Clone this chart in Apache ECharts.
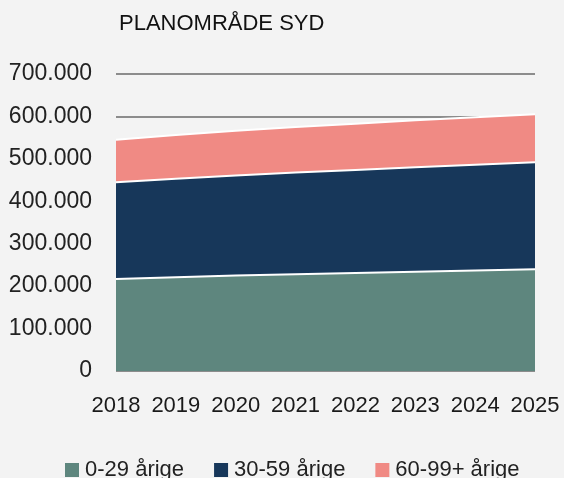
<!DOCTYPE html>
<html>
<head>
<meta charset="utf-8">
<script src="https://cdn.jsdelivr.net/npm/echarts@6/dist/echarts.min.js"></script>
<style>
html,body{margin:0;padding:0;background:#f3f3f3;}
#c{width:564px;height:478px;}
</style>
</head>
<body>
<div id="c"></div>
<script>
const years = ['2018','2019','2020','2021','2022','2023','2024','2025'];
const seriesNames = ['0-29 årige','30-59 årige','60-99+ årige'];
const age0_29 = [217000, 221000, 225000, 228000, 231000, 234000, 237000, 240000];
const age30_59 = [228000, 232000, 236000, 240000, 243000, 246000, 249000, 252000];
const age60_99 = [100000, 103000, 105000, 107000, 109000, 111000, 112000, 113000];
const colors = ['#5e867e', '#17375a', '#f08a84'];

const chart = echarts.init(document.getElementById('c'), null, {renderer:'canvas'});
const font = 'Liberation Sans';
function mk(name, data, color){
  return {
    name: name, type: 'line', stack: 'total', data: data,
    showSymbol: false, symbol: 'none',
    lineStyle: {color: '#ffffff', width: 2},
    itemStyle: {color: color},
    areaStyle: {color: color, opacity: 1},
    z: 2
  };
}
chart.setOption({
  backgroundColor: '#f3f3f3',
  animation: false,
  color: colors,
  title: {
    text: 'PLANOMRÅDE SYD', left: 114, top: 8,
    textStyle: {fontFamily: font, fontSize: 22, fontWeight: 'normal', color: '#111'}
  },
  legend: {
    left: 60, top: 454, itemWidth: 14, itemHeight: 14, itemGap: 30,
    icon: 'rect',
    textStyle: {fontFamily: font, fontSize: 22, color: '#222', padding: [0,0,0,1]},
    data: seriesNames
  },
  grid: {left: 116, right: 29, top: 74, bottom: 107, containLabel: false},
  xAxis: {
    type: 'category', data: years, boundaryGap: false,
    axisLine: {show: false}, axisTick: {show: false},
    axisLabel: {fontFamily: font, fontSize: 22, color: '#1a1a1a', margin: 24, interval: 0}
  },
  yAxis: {
    type: 'value', min: 0, max: 700000, interval: 100000,
    axisLine: {show: false}, axisTick: {show: false},
    splitLine: {show: true, lineStyle: {color: '#8c8c8c', width: 2}},
    axisLabel: {
      fontFamily: font, fontSize: 23, color: '#222', margin: 24,
      formatter: function(v){ return v === 0 ? '0' : (v/1000).toFixed(0) + '.000'; }
    }
  },
  series: [
    mk(seriesNames[0], age0_29, colors[0]),
    mk(seriesNames[1], age30_59, colors[1]),
    mk(seriesNames[2], age60_99, colors[2])
  ]
});
</script>
</body>
</html>
